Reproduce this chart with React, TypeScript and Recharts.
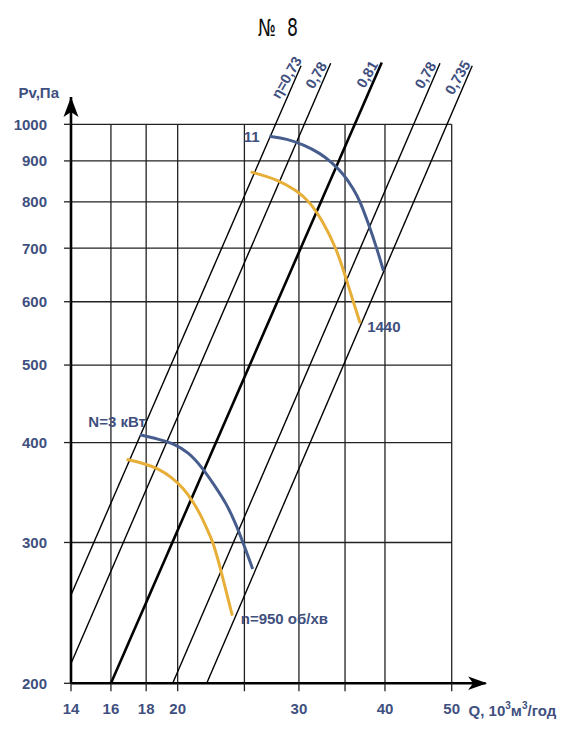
import React from 'react';
import { ComposedChart, Line, XAxis, YAxis, ReferenceLine, ReferenceDot } from 'recharts';

// Axes
const Q_MIN = 14;
const Q_MAX = 56;
const P_MIN = 200;
const P_MAX = 1300;
const Q_TICKS = [14, 16, 18, 20, 25, 30, 35, 40, 50];
const Q_LABELLED = [14, 16, 18, 20, 30, 40, 50];
const P_TICKS = [200, 300, 400, 500, 600, 700, 800, 900, 1000];
const GRID_Q_END = 50;
const GRID_P_END = 1000;
const P_ARROW = 1082;

// Efficiency lines (straight in log-log)
const ETA_LABELS = ['η=0,73', '0,78', '0,81', '0,78', '0,735'];
const ETA_Q_START = [14, 14, 16, 19.67, 22.04];
const ETA_P_START = [257.9, 211.8, 200, 200, 200];
const ETA_Q_END = [30.21, 33.36, 39.57, 48.08, 53.55];
const ETA_P_END = [1184, 1192, 1195, 1192, 1184];
const ETA_WIDTH = [1.4, 1.4, 2.6, 1.4, 1.4];

// Fan curves, 1440 rpm
const HI_BLUE_Q = [27.19, 28.81, 30.46, 32.21, 33.49, 34.82, 36.0, 36.82, 37.85, 38.92, 39.8];
const HI_BLUE_P = [966, 959, 943, 920, 896, 867, 830, 801, 751, 700, 656];
const HI_ORANGE_Q = [25.53, 27.86, 29.79, 31.08, 32.57, 33.98, 35.02, 36.0, 36.82];
const HI_ORANGE_P = [872, 854, 826, 801, 754, 700, 647, 599, 564];
// Fan curves, 950 rpm
const LO_BLUE_Q = [17.63, 18.75, 19.71, 20.73, 21.67, 22.66, 23.56, 24.23, 24.85, 25.7];
const LO_BLUE_P = [409, 404, 399, 389, 373, 353, 335, 318, 301, 278];
const LO_ORANGE_Q = [16.86, 17.83, 18.75, 19.6, 20.38, 21.08, 21.67, 22.16, 22.48, 22.91, 23.38, 24.01];
const LO_ORANGE_P = [381, 377, 371, 362, 351, 337, 323, 309, 301, 285, 266, 243];

const TEXT = '#3f507f';
const BLUE = '#475d8d';
const ORANGE = '#e7ae38';
const GRID = '#222';
const FONT = '"Liberation Sans", Arial, Helvetica, sans-serif';

const pts = (qs: number[], ps: number[]) => qs.map((q, i) => ({ q, p: ps[i] }));

const textStyle = { fill: TEXT, fontSize: 15, fontWeight: 'bold' as const, fontFamily: FONT };

const etaShape = (label: string) => (props: any) => {
  const x = props.cx - 14.5;
  const y = props.cy + 11.8;
  return (
    <text
      x={x}
      y={y}
      transform={`rotate(-60 ${x} ${y})`}
      textAnchor="middle"
      dominantBaseline="central"
      fill={TEXT}
      fontSize={14.5}
      fontWeight="bold"
      fontFamily={FONT}
    >
      {label}
    </text>
  );
};

const textShape = (label: string, dx: number, dy: number, anchor: 'start' | 'end') => (props: any) => (
  <text x={props.cx + dx} y={props.cy + dy} textAnchor={anchor} {...textStyle}>
    {label}
  </text>
);

const yArrow = (props: any) => {
  const { cx, cy } = props;
  return (
    <g>
      <polygon points={`${cx},${cy} ${cx + 7.5},${cy + 20} ${cx},${cy + 15} ${cx - 7.5},${cy + 20}`} fill="#000" />
      <text x={cx - 12} y={cy + 1.5} textAnchor="end" {...textStyle}>Pv,Па</text>
    </g>
  );
};

const xArrow = (props: any) => {
  const { cx, cy } = props;
  const t = cx + 1.5;
  return (
    <g>
      <polygon points={`${t},${cy} ${t - 19},${cy - 6.7} ${t - 14},${cy} ${t - 19},${cy + 6.7}`} fill="#000" />
      <text x={cx - 17} y={cy + 33} textAnchor="start" {...textStyle}>
        <tspan>Q, 10</tspan>
        <tspan fontSize={10} dy={-7}>3</tspan>
        <tspan dy={7}>м</tspan>
        <tspan fontSize={10} dy={-7}>3</tspan>
        <tspan dy={7}>/год</tspan>
      </text>
    </g>
  );
};

const curve = (qs: number[], ps: number[], color: string) => (
  <Line
    data={pts(qs, ps)}
    dataKey="p"
    type="basis"
    stroke={color}
    strokeWidth={3}
    strokeLinecap="butt"
    dot={false}
    activeDot={false}
    isAnimationActive={false}
  />
);

export default function App() {
  return (
    <div style={{ position: 'absolute', left: 0, top: 0, width: 576, height: 741, background: '#fff' }}>
      <div
        style={{
          position: 'absolute',
          left: 0,
          top: 15,
          width: 555,
          textAlign: 'center',
          fontFamily: '"Liberation Sans Narrow", "DejaVu Sans Condensed", "Arial Narrow", sans-serif',
          fontSize: 24,
          lineHeight: '26px',
          color: '#111',
        }}
      >
        <span style={{ display: 'inline-block', transform: 'scaleX(0.8)' }}>№&nbsp;&nbsp;8</span>
      </div>
      <ComposedChart width={576} height={741} margin={{ top: 33.2, right: 90.4, bottom: 27.7, left: 11 }}>
        <XAxis
          type="number"
          dataKey="q"
          scale="log"
          domain={[Q_MIN, Q_MAX]}
          allowDataOverflow
          ticks={Q_TICKS}
          interval={0}
          tickFormatter={(v: number) => (Q_LABELLED.includes(v) ? String(v) : '')}
          tickSize={8}
          tickMargin={12}
          axisLine={false}
          tickLine={{ stroke: GRID, strokeWidth: 1.3 }}
          tick={textStyle}
          height={30}
        />
        <YAxis
          type="number"
          dataKey="p"
          scale="log"
          domain={[P_MIN, P_MAX]}
          allowDataOverflow
          ticks={P_TICKS}
          interval={0}
          tickSize={7}
          tickMargin={17}
          axisLine={false}
          tickLine={{ stroke: GRID, strokeWidth: 1.3 }}
          tick={textStyle}
          width={60}
        />
        {Q_TICKS.map((q) => (
          <ReferenceLine
            key={'v' + q}
            segment={[{ x: q, y: P_MIN }, { x: q, y: GRID_P_END }]}
            stroke={GRID}
            strokeWidth={1.3}
            ifOverflow="visible"
          />
        ))}
        {P_TICKS.map((p) => (
          <ReferenceLine
            key={'h' + p}
            segment={[{ x: Q_MIN, y: p }, { x: GRID_Q_END, y: p }]}
            stroke={GRID}
            strokeWidth={1.3}
            ifOverflow="visible"
          />
        ))}
        <ReferenceLine segment={[{ x: Q_MIN, y: P_MIN }, { x: Q_MIN, y: P_ARROW }]} stroke="#000" strokeWidth={2.6} ifOverflow="visible" />
        <ReferenceLine segment={[{ x: Q_MIN, y: P_MIN }, { x: Q_MAX, y: P_MIN }]} stroke="#000" strokeWidth={2.6} ifOverflow="visible" />
        {ETA_LABELS.map((lab, i) => (
          <Line
            key={'eta' + i}
            data={pts([ETA_Q_START[i], ETA_Q_END[i]], [ETA_P_START[i], ETA_P_END[i]])}
            dataKey="p"
            type="linear"
            stroke="#000"
            strokeWidth={ETA_WIDTH[i]}
            dot={false}
            activeDot={false}
            isAnimationActive={false}
          />
        ))}
        {curve(HI_BLUE_Q, HI_BLUE_P, BLUE)}
        {curve(HI_ORANGE_Q, HI_ORANGE_P, ORANGE)}
        {curve(LO_BLUE_Q, LO_BLUE_P, BLUE)}
        {curve(LO_ORANGE_Q, LO_ORANGE_P, ORANGE)}
        {ETA_LABELS.map((lab, i) => (
          <ReferenceDot key={'el' + i} x={ETA_Q_END[i]} y={ETA_P_END[i]} r={0} shape={etaShape(lab)} />
        ))}
        <ReferenceDot x={HI_BLUE_Q[0]} y={HI_BLUE_P[0]} r={0} shape={textShape('11', -10, 5.3, 'end')} />
        <ReferenceDot x={HI_ORANGE_Q[HI_ORANGE_Q.length - 1]} y={HI_ORANGE_P[HI_ORANGE_P.length - 1]} r={0} shape={textShape('1440', 7, 8.6, 'start')} />
        <ReferenceDot x={LO_BLUE_Q[0]} y={LO_BLUE_P[0]} r={0} shape={textShape('N=3 кВт', 6, -8, 'end')} />
        <ReferenceDot x={LO_ORANGE_Q[LO_ORANGE_Q.length - 1]} y={LO_ORANGE_P[LO_ORANGE_P.length - 1]} r={0} shape={textShape('n=950 об/хв', 8.4, 8.6, 'start')} />
        <ReferenceDot x={Q_MIN} y={P_ARROW} r={0} shape={yArrow} />
        <ReferenceDot x={Q_MAX} y={P_MIN} r={0} shape={xArrow} />
      </ComposedChart>
    </div>
  );
}
